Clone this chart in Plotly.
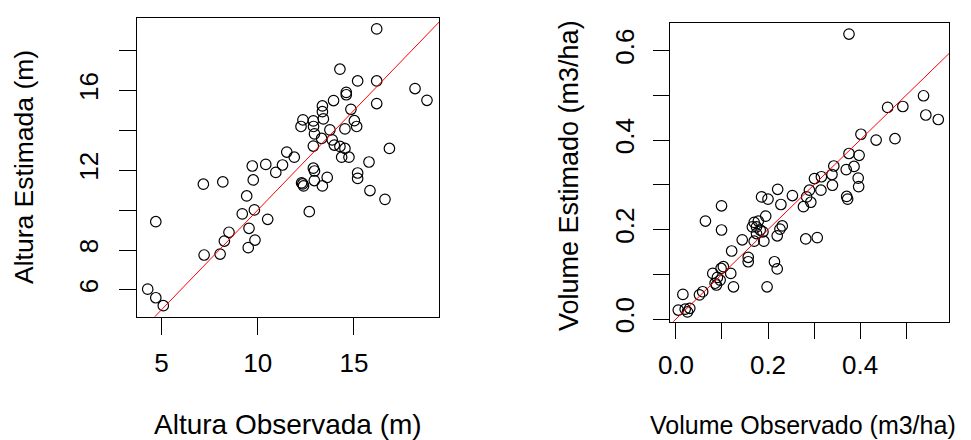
import plotly.graph_objects as go

# ---- Left panel: Altura (m) ----
altura_obs = [16.18, 14.27, 15.19, 16.18, 18.17, 18.79, 14.60, 14.60, 13.94, 16.18,
              13.36, 13.36, 14.84, 12.35, 12.89, 13.41, 15.02, 12.25, 12.90, 15.14,
              14.53, 13.75, 12.95, 13.32, 13.87, 12.89, 13.98, 14.27, 14.53, 16.84,
              11.51, 11.90, 14.36, 14.74, 15.78, 9.72, 10.42, 11.29, 10.94, 12.89,
              12.95, 13.61, 15.19, 15.19, 7.18, 8.19, 9.77, 12.34, 12.38, 12.28,
              12.94, 13.36, 15.83, 16.61, 12.68, 9.43, 9.83, 9.20, 10.52, 4.71,
              9.55, 8.51, 8.27, 9.86, 9.51, 7.22, 8.05, 4.29, 4.71, 5.10]
altura_est = [19.08, 17.06, 16.47, 16.47, 16.09, 15.50, 15.90, 15.78, 15.49, 15.34,
              15.22, 14.93, 15.05, 14.52, 14.47, 14.57, 14.48, 14.19, 14.19, 14.19,
              14.07, 14.02, 13.82, 13.59, 13.52, 13.21, 13.26, 13.19, 13.09, 13.09,
              12.91, 12.65, 12.65, 12.65, 12.41, 12.21, 12.29, 12.26, 11.89, 12.10,
              11.96, 11.64, 11.86, 11.59, 11.30, 11.41, 11.51, 11.31, 11.21, 11.36,
              11.48, 11.21, 10.98, 10.54, 9.92, 10.71, 10.01, 9.81, 9.54, 9.42,
              9.09, 8.89, 8.45, 8.50, 8.12, 7.75, 7.80, 6.04, 5.61, 5.21]

# ---- Right panel: Volume (m3/ha) ----
volume_obs = [0.376, 0.538, 0.460, 0.493, 0.543, 0.570, 0.402, 0.435, 0.476, 0.376,
              0.398, 0.343, 0.370, 0.387, 0.301, 0.316, 0.339, 0.396, 0.397, 0.340,
              0.315, 0.371, 0.373, 0.290, 0.284, 0.293, 0.277, 0.253, 0.221, 0.228,
              0.186, 0.200, 0.099, 0.064, 0.099, 0.195, 0.170, 0.179, 0.175, 0.166,
              0.183, 0.175, 0.189, 0.231, 0.226, 0.220, 0.282, 0.307, 0.191, 0.170,
              0.144, 0.121, 0.157, 0.157, 0.214, 0.220, 0.198, 0.080, 0.098, 0.103,
              0.090, 0.085, 0.088, 0.096, 0.119, 0.125, 0.015, 0.051, 0.058, 0.005,
              0.020, 0.030, 0.025]
volume_est = [0.637, 0.499, 0.473, 0.475, 0.456, 0.446, 0.413, 0.400, 0.403, 0.370,
              0.366, 0.342, 0.334, 0.341, 0.314, 0.318, 0.323, 0.315, 0.296, 0.299,
              0.288, 0.274, 0.268, 0.288, 0.273, 0.261, 0.251, 0.276, 0.290, 0.256,
              0.273, 0.268, 0.253, 0.219, 0.199, 0.230, 0.216, 0.219, 0.206, 0.206,
              0.199, 0.191, 0.195, 0.208, 0.201, 0.186, 0.179, 0.182, 0.174, 0.174,
              0.177, 0.152, 0.138, 0.128, 0.128, 0.112, 0.072, 0.102, 0.113, 0.117,
              0.093, 0.080, 0.076, 0.087, 0.102, 0.072, 0.055, 0.054, 0.061, 0.020,
              0.022, 0.024, 0.016]

# ---- Axis ticks / labels ----
alt_x_ticks = [5, 10, 15]
alt_x_text = ["5", "10", "15"]
alt_y_ticks = [6, 8, 10, 12, 14, 16, 18]
alt_y_text = ["6", "8", "", "12", "", "16", ""]
vol_x_ticks = [0.0, 0.1, 0.2, 0.3, 0.4, 0.5]
vol_x_text = ["0.0", "", "0.2", "", "0.4", ""]
vol_y_ticks = [0.0, 0.1, 0.2, 0.3, 0.4, 0.5, 0.6]
vol_y_text = ["0.0", "", "0.2", "", "0.4", "", "0.6"]

alt_x_range = [3.75, 19.43]
alt_y_range = [4.66, 19.64]
vol_x_range = [-0.013, 0.594]
vol_y_range = [-0.006, 0.661]

W, H = 971, 440
FONT = "Liberation Sans, Arial, sans-serif"
FS = 26

marker = dict(symbol="circle-open", size=10.5, color="black", line=dict(width=1.2, color="black"))

fig = go.Figure()
fig.add_trace(go.Scatter(x=altura_obs, y=altura_est, mode="markers", marker=marker,
                         xaxis="x", yaxis="y", showlegend=False))
lo = min(alt_x_range[0], alt_y_range[0]); hi = max(alt_x_range[1], alt_y_range[1])
fig.add_trace(go.Scatter(x=[lo, hi], y=[lo, hi], mode="lines", line=dict(color="red", width=1),
                         xaxis="x", yaxis="y", showlegend=False))
fig.add_trace(go.Scatter(x=volume_obs, y=volume_est, mode="markers", marker=marker,
                         xaxis="x2", yaxis="y2", showlegend=False))
lo2 = min(vol_x_range[0], vol_y_range[0]); hi2 = max(vol_x_range[1], vol_y_range[1])
fig.add_trace(go.Scatter(x=[lo2, hi2], y=[lo2, hi2], mode="lines", line=dict(color="red", width=1),
                         xaxis="x2", yaxis="y2", showlegend=False))

def ax(rng, dom, anchor, tv, tt, ticklen, standoff, angle=0):
    return dict(range=rng, domain=dom, anchor=anchor, tickmode="array", tickvals=tv, ticktext=tt,
                ticks="outside", ticklen=ticklen, tickwidth=1.2, tickcolor="black",
                showline=True, linecolor="black", linewidth=1.2, mirror=True,
                showgrid=False, zeroline=False, automargin=False, tickangle=angle,
                ticklabelstandoff=standoff, tickfont=dict(family=FONT, size=FS, color="black"))

fig.update_layout(
    width=W, height=H, margin=dict(l=0, r=0, t=0, b=0),
    paper_bgcolor="white", plot_bgcolor="white",
    xaxis=ax(alt_x_range, [137.3 / W, 439.3 / W], "y", alt_x_ticks, alt_x_text, 17, 6),
    yaxis=ax(alt_y_range, [1 - 316.7 / H, 1 - 17.7 / H], "x", alt_y_ticks, alt_y_text, 17, 11, -90),
    xaxis2=ax(vol_x_range, [670 / W, 949.3 / W], "y2", vol_x_ticks, vol_x_text, 16, 4),
    yaxis2=ax(vol_y_range, [1 - 321.7 / H, 1 - 23.3 / H], "x2", vol_y_ticks, vol_y_text, 16, 9, -90),
)

titles = [
    ("Altura Observada (m)", 288.0, 424, 0, 28),
    ("Volume Observado (m3/ha)", 802.5, 425, 0, 25),
    ("Altura Estimada (m)", 24, 167, -90, 26.5),
    ("Volume Estimado (m3/ha)", 569, 176, -90, 27),
]
for txt, px, py, ang, fs in titles:
    fig.add_annotation(text=txt, x=px / W, y=1 - py / H, xref="paper", yref="paper",
                       xanchor="center", yanchor="middle", textangle=ang, showarrow=False,
                       font=dict(family=FONT, size=fs, color="black"))

fig.write_html("out.html")
